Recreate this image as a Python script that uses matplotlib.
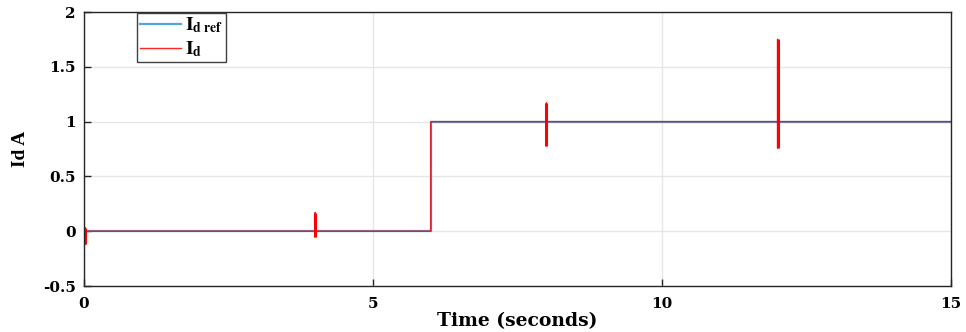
import matplotlib
matplotlib.use("Agg")
import matplotlib.pyplot as plt

# Reference current (step at t=6 s)
t_ref = [0, 6.0, 6.0, 15]
id_ref = [0, 0, 1, 1]

# Measured current with transients
t_id = [0, 0.02, 0.02, 0.02, 0.04,
        4.0, 4.0, 4.0, 4.0, 4.02,
        6.0, 6.0,
        8.0, 8.0, 8.0, 8.0, 8.02,
        12.0, 12.0, 12.0, 12.0, 12.02, 15]
id_meas = [0, 0.0, 0.03, -0.12, 0.0,
           0.0, 0.17, -0.05, 0.0, 0.0,
           0.0, 1.0,
           1.0, 1.17, 0.78, 1.0, 1.0,
           1.0, 1.75, 0.76, 1.0, 1.0, 1.0]

xticks = [0, 5, 10, 15]
yticks = [-0.5, 0, 0.5, 1, 1.5, 2]

plt.rcParams['font.family'] = ['DejaVu Serif']
plt.rcParams['font.weight'] = 'bold'
plt.rcParams['mathtext.fontset'] = 'stix'

fig = plt.figure(figsize=(9.66, 3.32), dpi=100)
ax = fig.add_axes([84/966, 1 - 286/332, (951-84)/966, (286-12)/332])

ax.plot(t_ref, id_ref, color='#4DA6DE', lw=1.6,
        label=r'$\mathbf{I}_{\!\!\mathbf{\;d\ ref}}$')
ax.plot(t_id, id_meas, color='#FF0000', lw=1.0, alpha=0.85,
        label=r'$\mathbf{I}_{\!\!\mathbf{\;d}}$')
# thicker transients
for a, b in [(2, 4), (6, 8), (13, 15), (18, 20)]:
    ax.plot(t_id[a:b], id_meas[a:b], color='#FF0000', lw=2.2, solid_capstyle='butt')

ax.set_xlim(0, 15)
ax.set_ylim(-0.5, 2)
ax.set_xticks(xticks)
ax.set_yticks(yticks)
ax.set_xticklabels([str(v) for v in xticks], fontsize=11, fontweight='bold')
ax.set_yticklabels(['-0.5', '0', '0.5', '1', '1.5', '2'], fontsize=11, fontweight='bold')
ax.tick_params(direction='in', length=5, width=1, color='#262626', pad=6)
ax.tick_params(axis='x', pad=8)
ax.grid(True, color='#E6E6E6', lw=1)
ax.set_axisbelow(True)
for s in ax.spines.values():
    s.set_color('#262626')
    s.set_linewidth(1)

ax.set_xlabel('Time (seconds)', fontsize=13.5, fontweight='bold', labelpad=1)
ax.set_ylabel('Id A', fontsize=14, fontweight='bold', labelpad=10,
              family=['Liberation Serif'])

leg = ax.legend(loc='upper left', bbox_to_anchor=(0.061, 0.997), borderaxespad=0,
                fontsize=14, fancybox=False, framealpha=1, edgecolor='#404040',
                handlelength=2.1, borderpad=0.15, labelspacing=0.2, handletextpad=0.25)
leg.get_frame().set_linewidth(1)

fig.savefig('out.png', dpi=100)
